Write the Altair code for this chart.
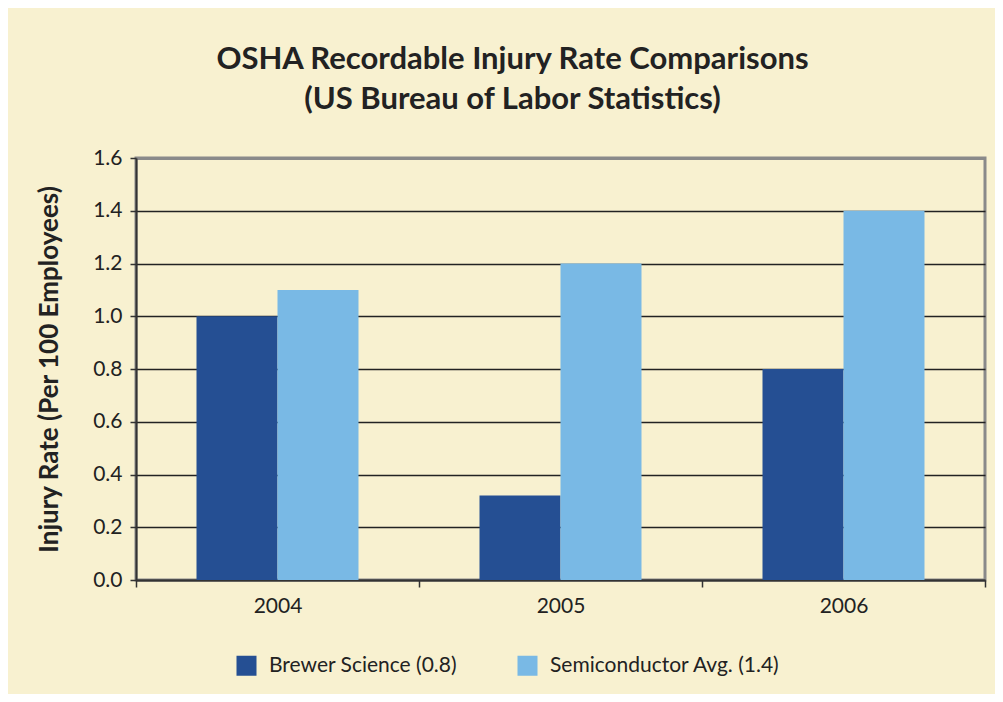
import altair as alt
import pandas as pd

years = ["2004", "2005", "2006"]
brewer = [1.0, 0.32, 0.8]
semi = [1.1, 1.2, 1.4]
series = ["Brewer Science (0.8)", "Semiconductor Avg. (1.4)"]
colors = ["#254F93", "#79B9E5"]
y_ticks = [0.0, 0.2, 0.4, 0.6, 0.8, 1.0, 1.2, 1.4, 1.6]

rows = []
for i, yr in enumerate(years):
    rows.append({"year": yr, "series": series[0], "rate": brewer[i]})
    rows.append({"year": yr, "series": series[1], "rate": semi[i]})
df = pd.DataFrame(rows)

FONT = "Lato"
BG = "#F8F1D0"

chart = alt.Chart(df).mark_bar().encode(
    x=alt.X("year:N", title=None,
            scale=alt.Scale(paddingInner=0, paddingOuter=0),
            axis=alt.Axis(labelAngle=0, tickBand="extent", labelFontSize=21,
                          labelFont=FONT, labelColor="#222", labelPadding=8,
                          tickSize=7, tickColor="#333", tickWidth=1.5,
                          domainColor="#333", domainWidth=2, grid=False)),
    xOffset=alt.XOffset("series:N", sort=series,
                        scale=alt.Scale(paddingOuter=0.747, paddingInner=0)),
    y=alt.Y("rate:Q", title="Injury Rate (Per 100 Employees)",
            scale=alt.Scale(domain=[0, 1.6], nice=False),
            axis=alt.Axis(values=y_ticks, format=".1f", labelFontSize=21,
                          labelFont=FONT, labelColor="#222", labelPadding=8,
                          tickSize=6, tickColor="#333", tickWidth=1.5,
                          domainColor="#333", domainWidth=2,
                          gridColor=alt.condition("datum.value >= 1.6", alt.value("#8a8a8a"), alt.value("#222")),
                          gridWidth=alt.condition("datum.value >= 1.6", alt.value(3), alt.value(1.3)),
                          titleFont=FONT, titleFontSize=26, titleFontWeight="bold",
                          titleColor="#222", titlePadding=30)),
    color=alt.Color("series:N", sort=series,
                    scale=alt.Scale(domain=series, range=colors),
                    legend=alt.Legend(title=None, orient="none", direction="horizontal",
                                      legendX=100, legendY=497, symbolType="square",
                                      symbolSize=400, symbolStrokeWidth=0,
                                      labelFontSize=21, labelFont=FONT, labelColor="#222",
                                      labelOffset=12, columnPadding=59, padding=0,
                                      labelLimit=0, symbolOffset=0)),
).properties(
    width=849, height=422,
    title=alt.TitleParams(["OSHA Recordable Injury Rate Comparisons",
                           "(US Bureau of Labor Statistics)"],
                          font=FONT, fontSize=31, fontWeight="bold", color="#222",
                          lineHeight=40, anchor="middle", dx=-48, offset=31),
    autosize=alt.AutoSizeParams(type="none"),
    padding={"left": 128, "top": 150, "right": 10, "bottom": 114},
    background=BG,
).configure_view(
    stroke="#8a8a8a", strokeWidth=3, fill=BG
)

chart.save("out.html", embed_options={"renderer": "svg", "actions": False})
